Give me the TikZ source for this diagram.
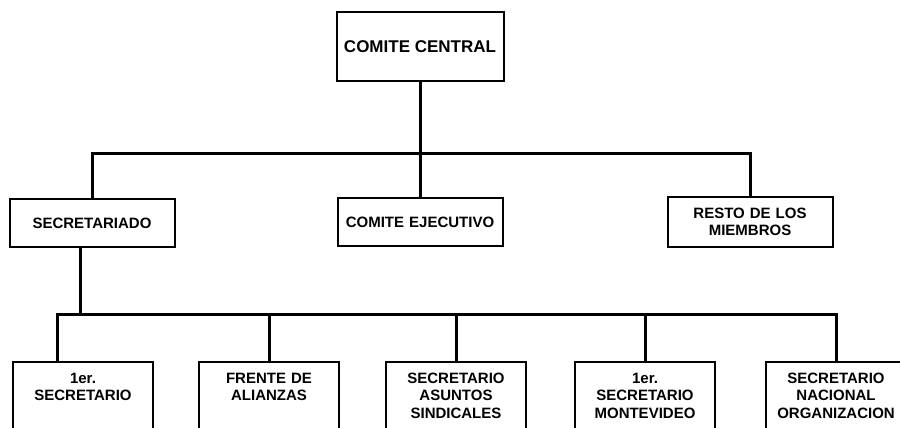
\documentclass[tikz,border=0pt]{standalone}
\usepackage{fontspec}
\setmainfont{Liberation Sans}
\usetikzlibrary{positioning}

\begin{document}
\begin{tikzpicture}[x=1pt,y=-1pt,
    caja/.style={draw,line width=2pt,align=center,
        font=\fontsize{15}{17.5}\selectfont\bfseries},
    cajamedia/.style={caja,minimum width=165pt,minimum height=48pt,text width=155pt},
    cajabaja/.style={caja,anchor=north,minimum width=140pt,text width=134pt,
        inner ysep=9pt,text height=12pt,text depth=90pt},
    enlace/.style={line width=3pt}]
    % ---- Marco ----
    \useasboundingbox (0,0) rectangle (900,428);
    \clip (0,0) rectangle (900,428);

    % ---- Comite central ----
    \node[caja,minimum width=167pt,minimum height=69pt,
        font=\fontsize{17}{19}\selectfont\bfseries] (central) at (420,47) {COMITE CENTRAL};

    % ---- Segundo nivel ----
    \node[cajamedia] (secretariado) at (92,223) {SECRETARIADO};
    \node[cajamedia] (ejecutivo) at (420,222) {COMITE EJECUTIVO};
    \node[cajamedia,minimum height=50pt] (resto) at (750,222) {RESTO DE LOS\\MIEMBROS};

    % ---- Tercer nivel ----
    \node[cajabaja] (primero) at (83,361) {1er.\\SECRETARIO};
    \node[cajabaja] (frente) at (269,361) {FRENTE DE\\ALIANZAS};
    \node[cajabaja] (sindicales) at (456,361) {SECRETARIO\\ASUNTOS\\SINDICALES};
    \node[cajabaja] (montevideo) at (645,361) {1er.\\SECRETARIO\\MONTEVIDEO};
    \node[cajabaja] (organizacion) at (836,361) {SECRETARIO\\NACIONAL\\ORGANIZACION};

    % ---- Enlaces ----
    \coordinate (barra1) at (central.south |- 0,153);
    \draw[enlace] (central.south) -- (barra1);
    \draw[enlace] (secretariado.north) |- (barra1) -| (resto.north);
    \draw[enlace] (barra1) -- (ejecutivo.north);

    \coordinate (bajada) at ([xshift=-12pt]secretariado.south);
    \coordinate (barra2) at (bajada |- 0,314);
    \draw[enlace] (bajada) -- (barra2);
    \draw[enlace] ([xshift=-26pt]primero.north) |- (organizacion.north |- barra2) -- (organizacion.north);
    \foreach \n in {frente,sindicales,montevideo}
        \draw[enlace] (\n.north) -- (\n.north |- barra2);

\end{tikzpicture}
\end{document}
